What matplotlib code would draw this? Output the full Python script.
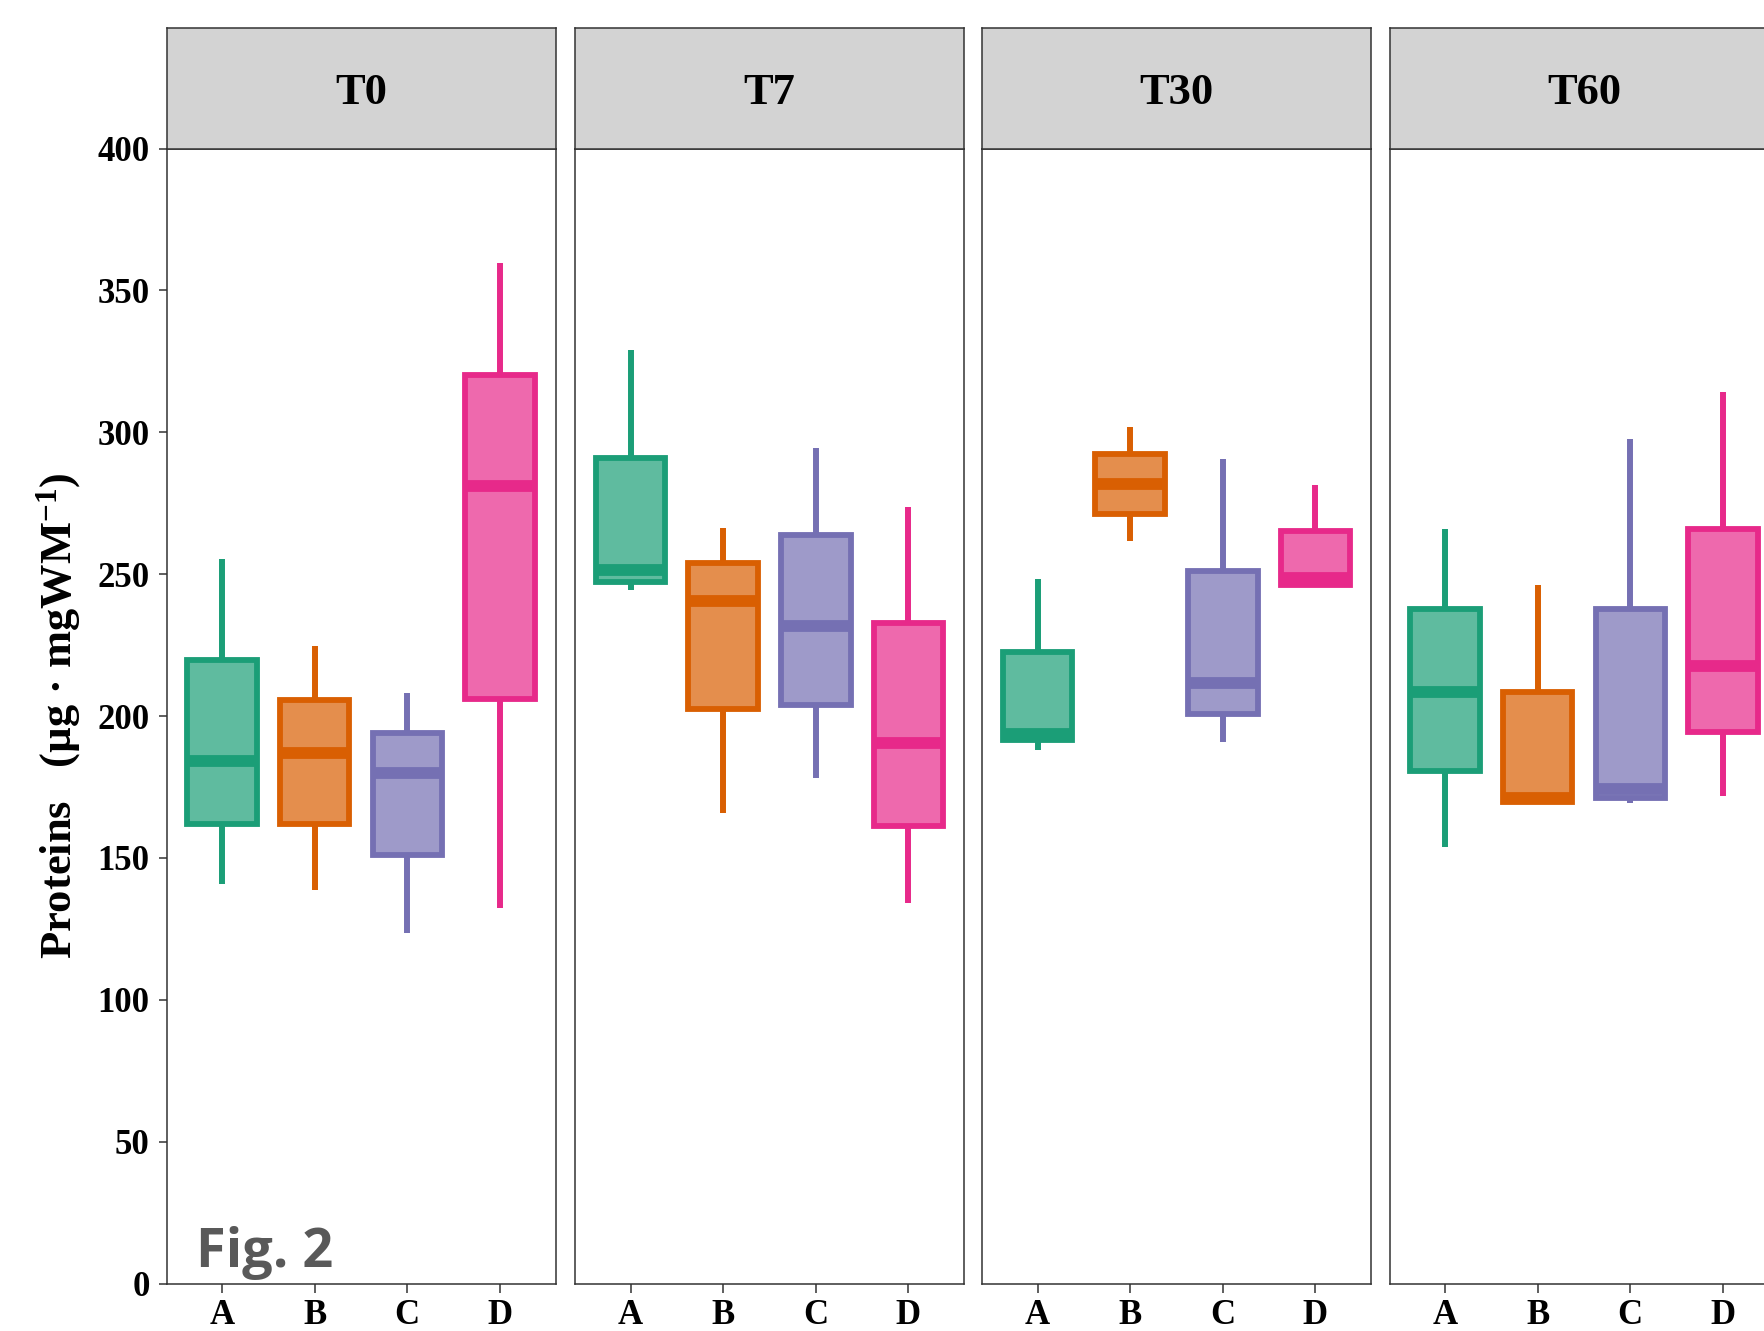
import matplotlib
matplotlib.use("Agg")
import matplotlib.pyplot as plt
from matplotlib.colors import to_rgba

plt.rcParams['font.family'] = ['Liberation Serif', 'DejaVu Serif']
plt.rcParams['font.weight'] = 'bold'
plt.rcParams['mathtext.fontset'] = 'custom'
plt.rcParams['mathtext.rm'] = 'Liberation Serif:bold'
plt.rcParams['mathtext.default'] = 'rm'

"================================================="
" Datos (lectura del grafico): [bigote inf, Q1, mediana, Q3, bigote sup]"
times = ["T0", "T7", "T30", "T60"]
groups = ["A", "B", "C", "D"]
colors = ["#1B9E77", "#D95F02", "#7570B3", "#E7298A"]

t0 = [[140.7, 162.0, 184.0, 219.6, 255.3],
      [138.8, 162.0, 187.0, 205.7, 224.8],
      [123.7, 151.0, 180.0, 193.9, 208.0],
      [132.4, 206.0, 281.0, 320.3, 359.6]]
t7 = [[244.5, 247.2, 251.5, 291.0, 328.9],
      [166.0, 202.5, 240.5, 253.8, 266.1],
      [178.0, 203.9, 231.9, 263.8, 294.5],
      [134.0, 161.3, 190.6, 232.9, 273.6]]
t30 = [[187.9, 191.5, 193.5, 222.4, 248.2],
       [261.6, 271.2, 281.9, 292.2, 301.7],
       [190.7, 200.6, 211.7, 251.0, 290.6],
       [246.2, 246.2, 248.6, 265.2, 281.5]]
t60 = [[154.0, 180.8, 208.6, 237.6, 266.0],
       [169.7, 169.7, 171.2, 208.6, 246.3],
       [169.4, 171.2, 174.2, 237.6, 297.7],
       [171.8, 194.5, 217.5, 266.0, 314.2]]
all_stats = [t0, t7, t30, t60]

yticks = [0, 50, 100, 150, 200, 250, 300, 350, 400]

"================================================="
" Figura "
W, H = 1764, 1331
fig = plt.figure(figsize=(W / 100, H / 100), dpi=100)

panel_left = [166.5, 575, 982, 1389.5]  # px
panel_w = 389
panel_top, panel_bot = 148.5, 1283.6
strip_top = 28

edge = "#333333"

for i, (t, stats) in enumerate(zip(times, all_stats)):
    ax = fig.add_axes([panel_left[i] / W, (H - panel_bot) / H,
                       panel_w / W, (panel_bot - panel_top) / H])
    bx = []
    for g, s in zip(groups, stats):
        bx.append(dict(label=g, whislo=s[0], q1=s[1], med=s[2], q3=s[3],
                       whishi=s[4], fliers=[]))
    art = ax.bxp(bx, positions=range(1, 5), widths=0.75, patch_artist=True,
                 showcaps=False, showfliers=False)
    for k, c in enumerate(colors):
        art['boxes'][k].set_facecolor(to_rgba(c, 0.7))
        art['boxes'][k].set_edgecolor(c)
        art['boxes'][k].set_linewidth(4.2)
        art['medians'][k].set_color(c)
        art['medians'][k].set_linewidth(8.5)
        art['medians'][k].set_solid_capstyle('butt')
        for w in art['whiskers'][2 * k:2 * k + 2]:
            w.set_color(c)
            w.set_linewidth(4.3)
            w.set_solid_capstyle('butt')

    ax.set_xlim(0.4, 4.6)
    ax.set_ylim(0, 400)
    ax.set_xticks(range(1, 5))
    ax.set_xticklabels(groups, fontsize=25, fontweight='bold')
    for sp in ax.spines.values():
        sp.set_color(edge)
        sp.set_linewidth(1.1)
    ax.tick_params(axis='x', length=6.3, width=1.1, color=edge, pad=5)
    ax.tick_params(axis='y', length=5.8, width=1.1, color=edge, pad=6.3)
    if i == 0:
        ax.set_yticks(yticks)
        ax.set_yticklabels([str(v) for v in yticks], fontsize=25, fontweight='bold')
    else:
        ax.set_yticks([])

    # strip
    sax = fig.add_axes([panel_left[i] / W, (H - panel_top) / H,
                        panel_w / W, (panel_top - strip_top) / H])
    sax.set_facecolor("#D3D3D3")
    sax.set_xticks([])
    sax.set_yticks([])
    for sp in sax.spines.values():
        sp.set_color(edge)
        sp.set_linewidth(1.1)
    sax.text(0.5, 0.369, t, ha='center', va='baseline', fontsize=32,
             fontweight='bold', transform=sax.transAxes)

fig.text(58.5 / W, 1 - 716 / H, r"Proteins   (µg · mgWM$^{-1}$)", rotation=90,
         ha='center', va='center', fontsize=32, fontweight='bold')

fig.text(196 / W, (H - 1267) / H, "Fig. 2", fontsize=39, fontweight='bold',
         family='Open Sans', color="#595959", va='baseline', ha='left')

fig.savefig("out.png", dpi=100)
